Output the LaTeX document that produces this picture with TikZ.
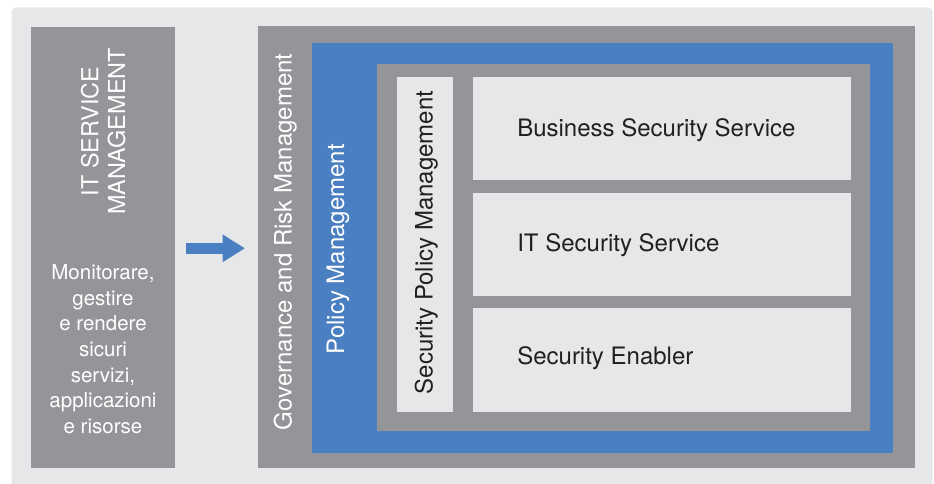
\documentclass[tikz,border=0pt]{standalone}
\usepackage{fontspec}
\setmainfont{TeX Gyre Heros}
\usetikzlibrary{fit,arrows.meta}
\definecolor{bgc}{HTML}{E6E7E8}
\definecolor{panelc}{HTML}{939598}
\definecolor{blu}{HTML}{4A7FC1}
\definecolor{ink}{HTML}{231F20}
\begin{document}
\begin{tikzpicture}[x=1pt,y=-1pt,
  area/.style={inner sep=0pt, outer sep=0pt, draw=none, fill=#1},
  lbl/.style={inner sep=0pt, outer sep=0pt, font=\fontsize{24}{28}\selectfont},
  vlbl/.style={lbl, rotate=90, anchor=base west},
  hlbl/.style={lbl, anchor=base west, text=ink}]
\useasboundingbox[fill=white] (0,0) rectangle (934,483);
\fill[bgc, rounded corners=5pt] (11.5,7.3) rectangle (932.7,500);
% left panel
\node[area=panelc, fit={(31,27) (175,467.7)}] (itsm) {};
\node[lbl, rotate=90, anchor=base, text=white, font=\fontsize{23.4}{28}\selectfont] (t1) at (98.3,131.5) {IT SERVICE};
\node[lbl, rotate=90, anchor=base, text=white, font=\fontsize{23.4}{28}\selectfont] (t2) at (125,131.5) {MANAGEMENT};
\node[inner sep=0pt, anchor=north, align=center, text=white, font=\fontsize{20.5}{25.7}\selectfont] (desc) at (103,264.3)
  {Monitorare,\\gestire\\e rendere\\sicuri\\servizi,\\applicazioni\\e risorse};
% arrow
\coordinate (a1) at (186,248.3);
\coordinate (a2) at (245,248.3);
\draw[blu, line width=11.5pt, -{Triangle[length=22.3pt,width=26pt]}] (a1) -- (a2);
% nested panels
\node[area=panelc, fit={(258.3,26) (915,467.7)}] (gov) {};
\node[area=blu, fit={(312,42.7) (893,453)}] (pol) {};
\node[area=panelc, fit={(377,63.5) (870,431)}] (spmarea) {};
\node[area=bgc, fit={(397,76.7) (453,411.7)}] (spm) {};
\node[area=bgc, fit={(472.7,76.7) (851,180)}] (b1) {};
\node[area=bgc, fit={(472.7,193.3) (851,296)}] (b2) {};
\node[area=bgc, fit={(472.7,308.3) (851,411.7)}] (b3) {};
% labels
\node[vlbl, text=white] (govt) at (291.7,430) {Governance and Risk Management};
\node[vlbl, text=white] (polt) at (344,354.3) {Policy Management};
\node[vlbl, text=ink] (spmt) at (432.7,394.3) {Security Policy Management};
\node[hlbl] (b1t) at (517.3,136.7) {Business Security Service};
\node[hlbl] (b2t) at (517.3,251.7) {IT Security Service};
\node[hlbl] (b3t) at (517.3,364) {Security Enabler};
\end{tikzpicture}
\end{document}
